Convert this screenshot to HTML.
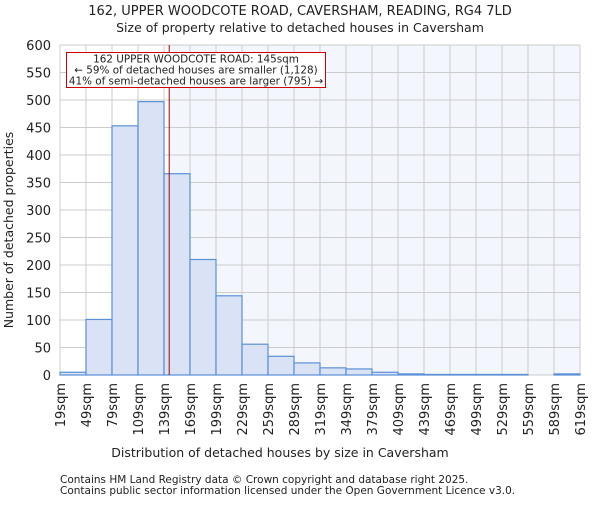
<!DOCTYPE html>
<html><head><meta charset="utf-8"><style>
body{margin:0;background:#fff;font-family:"Liberation Sans","DejaVu Sans",sans-serif}
svg text{font-family:"DejaVu Sans","Liberation Sans",sans-serif;fill:#222}
</style></head><body>
<svg id="c" width="600" height="500" xmlns="http://www.w3.org/2000/svg">
<text x="300" y="15" font-size="13" text-anchor="middle">162, UPPER WOODCOTE ROAD, CAVERSHAM, READING, RG4 7LD</text>
<text x="300" y="32" font-size="12.5" text-anchor="middle">Size of property relative to detached houses in Caversham</text>
<g id="plot"></g>
<text x="280" y="457" font-size="12.5" text-anchor="middle">Distribution of detached houses by size in Caversham</text>
<text transform="translate(13,230) rotate(-90)" font-size="12.5" text-anchor="middle">Number of detached properties</text>
<text x="60" y="483" font-size="10.5" fill="#444">Contains HM Land Registry data © Crown copyright and database right 2025.</text>
<text x="60" y="494" font-size="10.5" fill="#444">Contains public sector information licensed under the Open Government Licence v3.0.</text>
</svg>
<script>
const binStarts=[19,49,79,109,139,169,199,229,259,289,319,349,379,409,439,469,499,529,559,589];
const counts=[5,101,453,497,366,210,144,56,34,22,13,11,5,2,1,1,1,1,0,2];
const yTicks=[0,50,100,150,200,250,300,350,400,450,500,550,600];
const xTickLabels=[19,49,79,109,139,169,199,229,259,289,319,349,379,409,439,469,499,529,559,589,619];
const propertySize=145;
const X0=60,X1=580,Y0=375,Y1=45,xmin=19,xmax=619,ymax=600;
const sx=v=>X0+(v-xmin)/(xmax-xmin)*(X1-X0);
const sy=v=>Y0-v/ymax*(Y0-Y1);
const NS="http://www.w3.org/2000/svg",g=document.getElementById('plot');
function mk(t,a){const e=document.createElementNS(NS,t);for(const k in a)e.setAttribute(k,a[k]);g.appendChild(e);return e;}
let e;
e=mk('rect',{x:X0,y:Y1,width:X1-X0,height:Y0-Y1,fill:'#fff'});


e=mk('rect',{x:sx(propertySize),y:Y1,width:X1-sx(propertySize),height:Y0-Y1,fill:'#f4f6fd'});


yTicks.forEach(v=>{
 e=mk('line',{x1:X0,x2:X1,y1:sy(v),y2:sy(v),stroke:'#ccc','stroke-width':1});
 
 
 e=mk('text',{x:X0-9,y:sy(v)+5,'font-size':13,'text-anchor':'end'});e.textContent=v;
 
 
});
xTickLabels.forEach(v=>{
 e=mk('line',{x1:sx(v),x2:sx(v),y1:Y1,y2:Y0,stroke:'#ccc','stroke-width':1});
 
 
 e=mk('text',{transform:`translate(${sx(v)+5},${Y0+8}) rotate(-90)`,'font-size':13,'text-anchor':'end'});e.textContent=v+'sqm';
 
 
});
counts.forEach((c,i)=>{
 const x=sx(binStarts[i]),w=sx(binStarts[i]+30)-x;
 e=mk('rect',{x:x,y:sy(c),width:w,height:Y0-sy(c),fill:'#d9e3f5',stroke:'#5a8fd8','stroke-width':1.2});
 
 
});
e=mk('line',{x1:sx(propertySize),x2:sx(propertySize),y1:Y1,y2:Y0,stroke:'#a00','stroke-width':1});


e=mk('rect',{x:66.5,y:52.5,width:259,height:35,fill:'#fff',stroke:'#c00','stroke-width':1});


["162 UPPER WOODCOTE ROAD: 145sqm","← 59% of detached houses are smaller (1,128)","41% of semi-detached houses are larger (795) →"].forEach((t,i)=>{
 e=mk('text',{x:196,y:62.5+i*11,'font-size':10.4,'text-anchor':'middle'});e.textContent=t;
 
 
});
</script>
</body></html>
